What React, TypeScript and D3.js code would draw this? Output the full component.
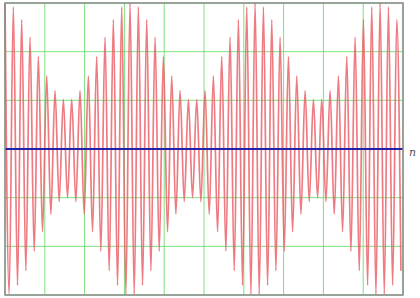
import React, { useRef, useEffect } from "react";
import * as d3 from "d3";

// peak values of the trace, one per half cycle
const peakValues = [
    1.5, -1.49, 1.46, -1.4, 1.33, -1.25, 1.15, -1.05, 0.95, -0.85,
    0.75, -0.67, 0.6, -0.54, 0.51, -0.5, 0.51, -0.54, 0.6, -0.67,
    0.75, -0.85, 0.95, -1.05, 1.15, -1.25, 1.33, -1.4, 1.46, -1.49,
    1.5, -1.49, 1.46, -1.4, 1.33, -1.25, 1.15, -1.05, 0.95, -0.85,
    0.75, -0.67, 0.6, -0.54, 0.51, -0.5, 0.51, -0.54, 0.6, -0.67,
    0.75, -0.85, 0.95, -1.05, 1.15, -1.25, 1.33, -1.4, 1.46, -1.49,
    1.5, -1.49, 1.46, -1.4, 1.33, -1.25, 1.15, -1.05, 0.95, -0.85,
    0.75, -0.67, 0.6, -0.54, 0.51, -0.5, 0.51, -0.54, 0.6, -0.67,
    0.75, -0.85, 0.95, -1.05, 1.15, -1.25, 1.33, -1.4, 1.46, -1.49,
    1.5, -1.49, 1.46, -1.4, 1.33, -1.25
];
const halfCycle = 1.0472; // spacing of the peaks along n
const nDomain = [0, 100];
const yDomain = [-1.5, 1.5];
const xGridTicks = [0, 10, 20, 30, 40, 50, 60, 70, 80, 90, 100];
const yGridTicks = [-1.5, -1, -0.5, 0, 0.5, 1, 1.5];
const axisLabel = "n";

const W = 420;
const H = 298;

export default function App() {
    const svgRef = useRef<SVGSVGElement>(null);

    useEffect(() => {
        if (!svgRef.current) return;
        const svg = d3.select(svgRef.current);
        svg.selectAll("*").remove();

        const left = 5, right = 403, top = 3, bottom = 295;

        const x = d3.scaleLinear().domain(nDomain).range([left, right]);
        const y = d3.scaleLinear().domain(yDomain).range([bottom, top]);

        svg.append("rect")
            .attr("width", W)
            .attr("height", H)
            .attr("fill", "#ffffff");

        // Grid
        svg.append("g")
            .selectAll("line")
            .data(xGridTicks)
            .join("line")
            .attr("x1", d => x(d))
            .attr("x2", d => x(d))
            .attr("y1", top)
            .attr("y2", bottom)
            .attr("stroke", "#7ee07e")
            .attr("stroke-width", 1);

        svg.append("g")
            .selectAll("line")
            .data(yGridTicks)
            .join("line")
            .attr("x1", left)
            .attr("x2", right)
            .attr("y1", d => y(d))
            .attr("y2", d => y(d))
            .attr("stroke", "#7ee07e")
            .attr("stroke-width", 1);

        // Trace - monotone curve keeps the tips flat like a sampled sine
        const line = d3.line<number>()
            .x((_, i) => x(i * halfCycle))
            .y(d => y(d))
            .curve(d3.curveMonotoneX);

        svg.append("path")
            .datum(peakValues)
            .attr("fill", "none")
            .attr("stroke", "#ea5a62")
            .attr("stroke-opacity", 0.8)
            .attr("stroke-width", 1.7)
            .attr("d", line);

        // Zero line
        svg.append("line")
            .attr("x1", left)
            .attr("x2", right)
            .attr("y1", y(0))
            .attr("y2", y(0))
            .attr("stroke", "#2222aa")
            .attr("stroke-width", 2);

        // Frame
        svg.append("rect")
            .attr("x", left)
            .attr("y", top)
            .attr("width", right - left)
            .attr("height", bottom - top)
            .attr("fill", "none")
            .attr("stroke", "#8a8a8a")
            .attr("stroke-width", 1.5);

        svg.append("text")
            .attr("x", right + 6)
            .attr("y", y(0) + 7)
            .attr("font-family", "DejaVu Serif")
            .attr("font-style", "italic")
            .attr("font-size", 11)
            .attr("fill", "#555")
            .text(axisLabel);
    }, []);

    return (
        <div style={{ position: "fixed", left: 0, top: 0 }}>
            <svg ref={svgRef} width={W} height={H} style={{ display: "block" }} />
        </div>
    );
}
